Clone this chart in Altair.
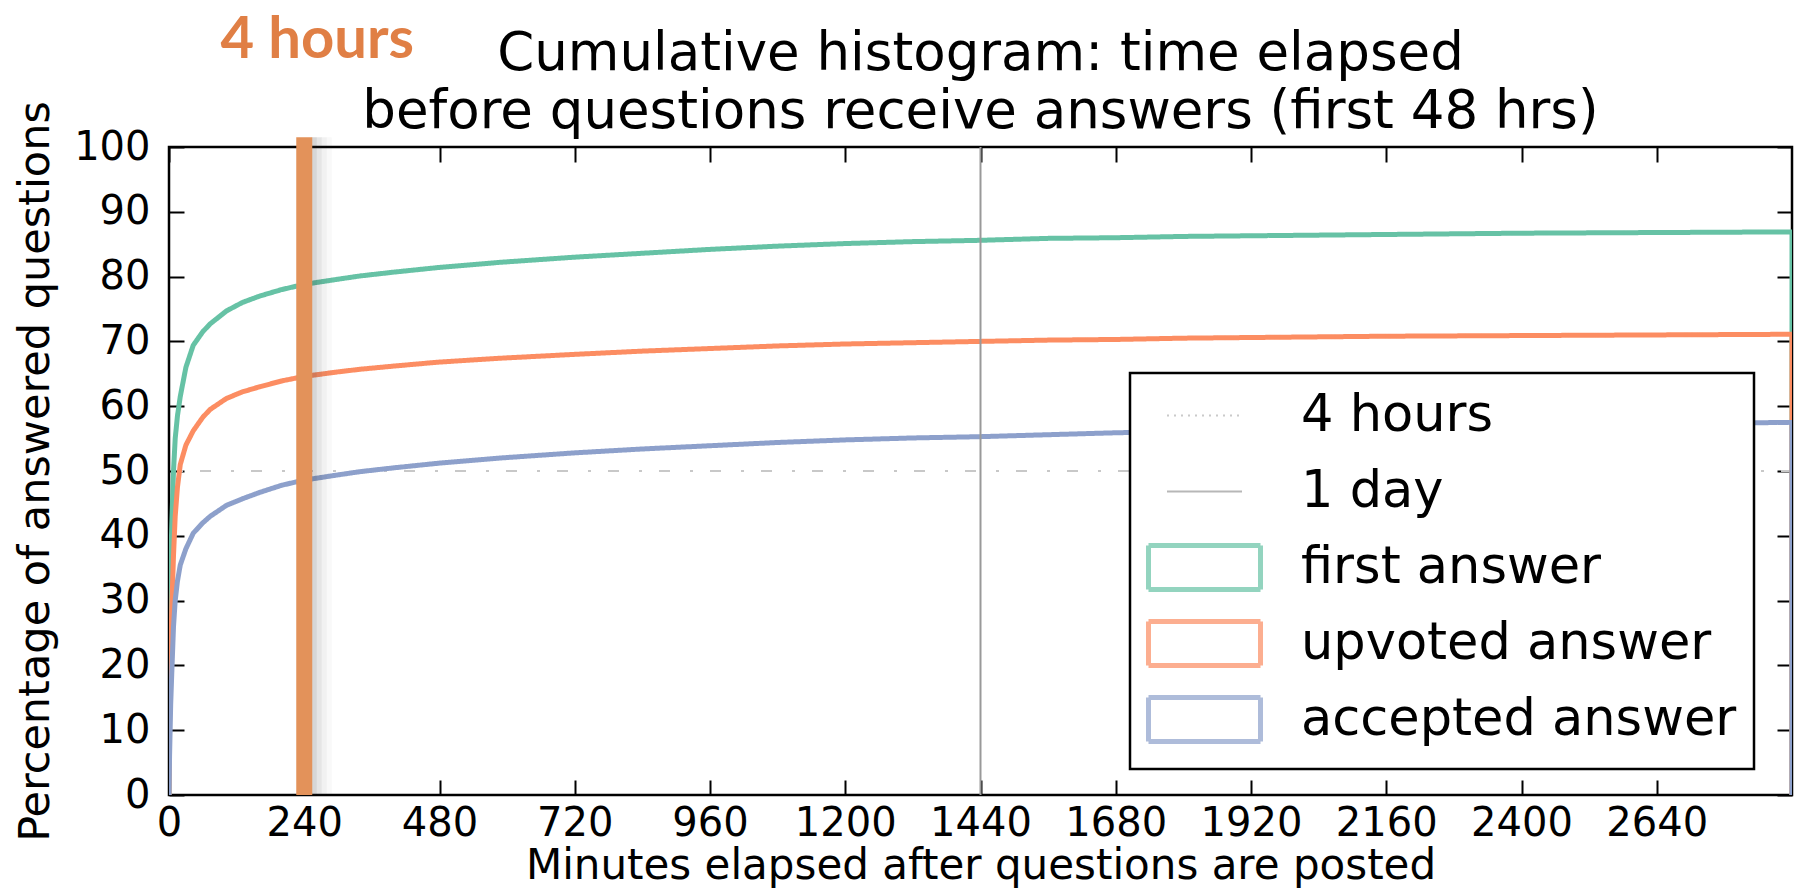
import altair as alt
import pandas as pd

# ---------------- data ----------------
minutes = [0, 1, 2, 3, 5, 8, 11, 15, 20, 30, 43, 60, 73, 102, 130, 161, 200, 240,
           300, 339, 400, 478, 587, 720, 840, 960, 1080, 1200, 1320, 1440, 1560,
           1680, 1800, 1920, 2160, 2400, 2640, 2880, 2880]
first_answer = [0, 20, 29, 35, 42, 50, 55, 58.5, 61.5, 66, 69.4, 71.5, 72.7, 74.7, 76,
                77.0, 78.0, 78.8, 79.6, 80.1, 80.7, 81.4, 82.2, 83.0, 83.6, 84.2, 84.7,
                85.1, 85.4, 85.6, 85.9, 86.0, 86.2, 86.3, 86.5, 86.7, 86.8, 86.9, 0]
upvoted_answer = [0, 12, 17, 22, 29, 37, 43, 47.5, 51, 54, 56.2, 58.3, 59.5, 61.2, 62.2,
                  63.0, 63.9, 64.6, 65.3, 65.7, 66.2, 66.8, 67.4, 68.0, 68.5, 68.9, 69.3,
                  69.6, 69.8, 70.0, 70.2, 70.3, 70.5, 70.6, 70.8, 70.9, 71.0, 71.1, 0]
accepted_answer = [0, 6, 10, 14, 19, 26, 30, 33, 35.5, 38, 40.4, 42, 43, 44.7, 45.7,
                   46.7, 47.8, 48.6, 49.4, 49.9, 50.5, 51.2, 52.0, 52.8, 53.4, 53.9, 54.4,
                   54.8, 55.1, 55.3, 55.6, 55.9, 56.1, 56.4, 56.7, 57.0, 57.3, 57.5, 0]

series_names = ["first answer", "upvoted answer", "accepted answer"]
legend_labels = ["4 hours", "1 day", "first answer", "upvoted answer", "accepted answer"]
legend_colors = ["#b4b4b4", "#999999", "#66c2a5", "#fc8d62", "#8da0cb"]
legend_widths = [2, 2, 5, 5, 5]
legend_dashes = [[2, 5], [1, 0], [1, 0], [1, 0], [1, 0]]

marker_labels = ["4 hours", "1 day"]
marker_minutes = [240, 1440]
half_level = [50]

x_ticks = [0, 240, 480, 720, 960, 1200, 1440, 1680, 1920, 2160, 2400, 2640]
y_ticks = [0, 10, 20, 30, 40, 50, 60, 70, 80, 90, 100]

title_lines = ["Cumulative histogram: time elapsed",
               "before questions receive answers (first 48 hrs)"]
x_title = "Minutes elapsed after questions are posted"
y_title = "Percentage of answered questions"
annotation_text = "4 hours"

# ---------------- tables ----------------
rows = []
for name, vals in zip(series_names, [first_answer, upvoted_answer, accepted_answer]):
    for i, (m, v) in enumerate(zip(minutes, vals)):
        rows.append({"label": name, "minute": m, "pct": v, "step": i})
curves = pd.DataFrame(rows)
markers = pd.DataFrame({"label": marker_labels, "minute": marker_minutes})
level_df = pd.DataFrame({"level": half_level})
bar_df = pd.DataFrame({"minute": [marker_minutes[0]], "top": [101.5], "bottom": [0]})

W, H = 1623, 648
FONT = "DejaVu Sans"

RECT = "M-2.8,-1.1H2.8V1.1H-2.8Z"
# line symbol; the two zero-length stubs only make its row as tall as a rectangle row
LINE = "M-1.875,0H1.875M0,-1.4L0,-1.4M0,1.4L0,1.4"
legend_shapes = [LINE, LINE, RECT, RECT, RECT]

xs = alt.Scale(domain=[0, 2880], nice=False, zero=False)
ys = alt.Scale(domain=[0, 100], nice=False)
cs = alt.Scale(domain=legend_labels, range=legend_colors)
ws = alt.Scale(type="ordinal", domain=legend_labels, range=legend_widths)
ds = alt.Scale(domain=legend_labels, range=legend_dashes)
ss = alt.Scale(domain=legend_labels, range=legend_shapes)

legend = alt.Legend(
    title=None, orient="none", legendX=961, legendY=226,
    labelFont=FONT, labelFontSize=51, labelColor="black", labelLimit=1000,
    labelOffset=71, symbolOffset=32, rowPadding=11, padding=17,
    symbolSize=1600, symbolFillColor="transparent",
    fillColor="white", strokeColor="black",
)


def enc_label(chart):
    return chart.encode(
        color=alt.Color("label:N", scale=cs, legend=legend),
        strokeWidth=alt.StrokeWidth("label:N", scale=ws, legend=legend),
        strokeDash=alt.StrokeDash("label:N", scale=ds, legend=legend),
    )


tick_style = dict(labels=False, domain=False, tickSize=15, tickWidth=2,
                  tickColor="black", grid=False, title=None)

hline = alt.Chart(level_df).mark_rule(
    color="#c8c8c8", strokeWidth=2, strokeDash=[11, 17, 3, 20]
).encode(y=alt.Y("level:Q", scale=ys, axis=None))

lines = enc_label(alt.Chart(curves).mark_line(clip=True).encode(
    x=alt.X("minute:Q", scale=xs, axis=alt.Axis(
        orient="bottom", values=x_ticks, format="d", title=x_title,
        ticks=False, tickSize=0, domain=False, grid=False,
        labelFontSize=40, labelPadding=8, labelFlush=False, labelOverlap=False,
        titleFontSize=42, titlePadding=2)),
    y=alt.Y("pct:Q", scale=ys, axis=alt.Axis(
        orient="left", values=y_ticks, format="d", title=y_title,
        ticks=False, tickSize=0, domain=False, grid=False,
        labelFontSize=40, labelPadding=19, labelFlush=False, labelOverlap=False,
        titleFontSize=43, titlePadding=16)),
    order=alt.Order("step:Q"),
))

rules = enc_label(alt.Chart(markers).mark_rule().encode(
    x=alt.X("minute:Q", scale=xs, axis=None),
))

# legend-only layer that supplies the per-entry symbol shapes
shape_keys = alt.Chart(markers).transform_filter("false").mark_point().encode(
    x=alt.X("minute:Q", scale=xs, axis=None),
    color=alt.Color("label:N", scale=cs, legend=legend),
    shape=alt.Shape("label:N", scale=ss, legend=legend),
)

shadows = []
for off, op in [(10, 0.20), (15, 0.13), (20, 0.07), (25, 0.03)]:
    shadows.append(
        alt.Chart(bar_df).mark_rule(strokeWidth=5, color="#333333", opacity=op,
                                    xOffset=off, strokeCap="butt").encode(
            x=alt.X("minute:Q", scale=xs, axis=None),
            y=alt.Y("top:Q", scale=ys, axis=None), y2="bottom:Q")
    )

bar = alt.Chart(bar_df).mark_rule(strokeWidth=16, color="#e3925a", strokeCap="butt").encode(
    x=alt.X("minute:Q", scale=xs, axis=None),
    y=alt.Y("top:Q", scale=ys, axis=None), y2="bottom:Q",
)

label4h = alt.Chart(bar_df).mark_text(
    text=annotation_text, font="Lato", fontWeight="bold", fontSize=58,
    color="#e07f45", align="center", baseline="alphabetic", dx=13,
).encode(x=alt.X("minute:Q", scale=xs, axis=None), y=alt.value(-89))

ticks_a = alt.Chart(curves).mark_point(opacity=0, size=1).encode(
    x=alt.X("minute:Q", scale=xs, axis=alt.Axis(orient="top", offset=-H, values=x_ticks, **tick_style)),
    y=alt.Y("pct:Q", scale=ys, axis=alt.Axis(orient="right", offset=-W, values=y_ticks, **tick_style)),
)
ticks_b = alt.Chart(curves).mark_point(opacity=0, size=1).encode(
    x=alt.X("minute:Q", scale=xs, axis=alt.Axis(orient="bottom", offset=-H, values=x_ticks, **tick_style)),
    y=alt.Y("pct:Q", scale=ys, axis=alt.Axis(orient="left", offset=-W, values=y_ticks, **tick_style)),
)

chart = alt.layer(
    hline, lines, rules, shape_keys, *shadows, bar, label4h, ticks_a, ticks_b
).resolve_axis(x="independent", y="independent").properties(
    width=W, height=H, autosize="none",
    padding={"left": 161, "top": 139, "right": 2, "bottom": 93},
    background="white",
    title=alt.Title(text=title_lines, font=FONT, fontSize=53, fontWeight="normal",
                    color="black", anchor="middle", frame="group", baseline="bottom",
                    lineHeight=58, offset=-180),
).configure_view(stroke="black", strokeWidth=2.5).configure_axis(
    labelFont=FONT, titleFont=FONT, labelColor="black", titleColor="black",
    titleFontWeight="normal",
).configure_legend(strokeWidth=2.5)

chart.save("out.html", embed_options={"renderer": "svg", "actions": False})
